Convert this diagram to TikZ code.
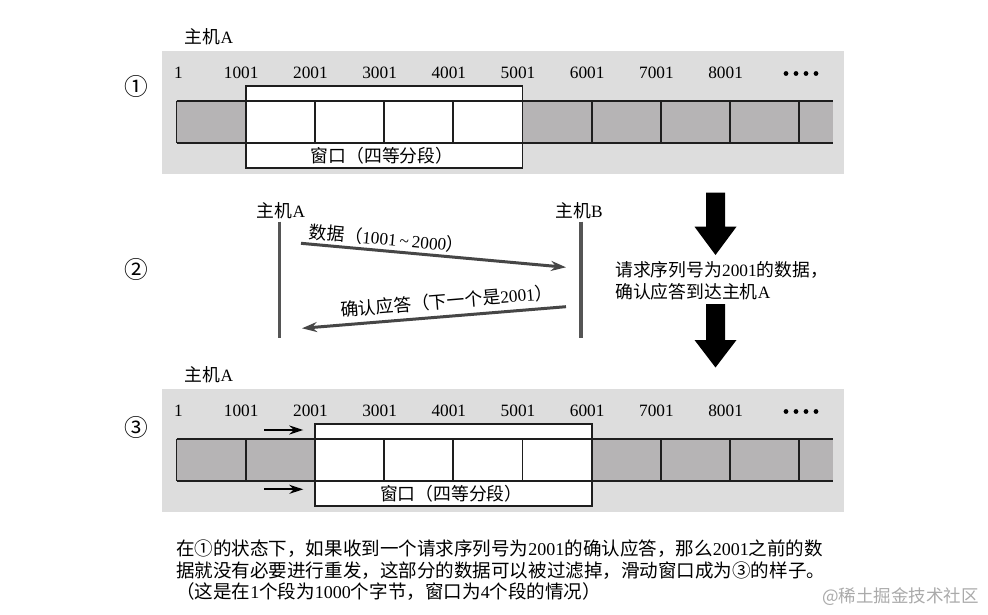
\documentclass[tikz,border=0pt]{standalone}
\usepackage{fontspec}
\setmainfont{Liberation Serif}
\newfontfamily\cjk{Noto Sans CJK SC}[Scale=1.03]
\newcommand{\zh}[1]{{\cjk #1}}
\usetikzlibrary{arrows.meta}
\definecolor{bggray}{RGB}{221,221,221}
\definecolor{cellgray}{RGB}{182,180,181}
\definecolor{inkline}{RGB}{30,30,30}
\definecolor{lifegray}{RGB}{85,85,85}
\definecolor{msggray}{RGB}{70,70,70}
\definecolor{wmgray}{RGB}{170,170,170}
\tikzset{
  every node/.style={inner sep=0pt, font=\fontsize{17.3}{19}\selectfont},
  cellline/.style={draw=inkline, line width=1.7pt},
  lifeline/.style={draw=lifegray, line width=3.2pt},
  msgarrow/.style={draw=msggray, line width=3pt, -{Stealth[length=15pt,width=10pt]}},
  shiftarrow/.style={draw=black, line width=2.2pt, -{Stealth[length=14pt,width=9pt]}},
  bigarrow/.style={fill=black},
  circnum/.style={font=\fontsize{23}{23}\selectfont},
  bodytext/.style={font=\fontsize{18}{19}\selectfont, anchor=west},
}
\newcommand{\slidepanel}[2]{%
  \fill[bggray] (162,51) rectangle (844,174);
  \fill[cellgray] (176.5,101) rectangle (833,143);
  \pgfmathsetmacro\wl{176.5+#2*69.2}
  \pgfmathsetmacro\wr{\wl+4*69.2}
  \pgfmathsetmacro\wc{(\wl+\wr)/2-2}
  \filldraw[fill=white, cellline] (\wl,85.7) rectangle (\wr,168.3);
  \draw[cellline] (176.5,101) -- (833,101) (176.5,143) -- (833,143) (176.5,101) -- (176.5,143);
  \foreach \i in {1,...,9} {\draw[cellline] ({176.5+\i*69.2},101) -- ({176.5+\i*69.2},143);}
  \node (p#1-n0) at (178.5,72.7) {1};
  \foreach \i/\t in {1/1001,2/2001,3/3001,4/4001,5/5001,6/6001,7/7001,8/8001}
    {\node (p#1-n\i) at ({176.5+\i*69.2-4.5},72.7) {\t};}
  \foreach \k in {0,...,3} {\fill (786+\k*10,73.5) circle[radius=2.4pt];}
  \node (p#1-win) at (\wc,156.2) {\zh{窗口（四等分段）}};
  \node (p#1-host) at (209,36.7) {\zh{主机}A};
}
\begin{document}
\begin{tikzpicture}[x=1pt, y=-1pt]
\useasboundingbox (0,0) rectangle (988,615);
\fill[white] (0,0) rectangle (988,615);

% panel 1
\slidepanel{1}{1}
\node[circnum] (c1) at (136.7,86.7) {\zh{①}};

% panel 2
\node[circnum] (c2) at (136.7,269.5) {\zh{②}};
\node (hA) at (281,210.7) {\zh{主机}A};
\node (hB) at (579,210.7) {\zh{主机}B};
\coordinate (lAt) at (279.3,221.7);
\coordinate (lAb) at (279.3,338.3);
\coordinate (lBt) at (581,221.7);
\coordinate (lBb) at (581,338.3);
\draw[lifeline] (lAt) -- (lAb);
\draw[lifeline] (lBt) -- (lBb);
\coordinate (s1) at (301,243.3);
\coordinate (e1) at (566,267.3);
\draw[msgarrow] (s1) -- (e1);
\coordinate (s2) at (566,306.7);
\coordinate (e2) at (302,328.3);
\draw[msgarrow] (s2) -- (e2);
\node[rotate=-5.2] (m1) at (386.7,238.5) {\zh{数据（}1001\,\textasciitilde\,2000\zh{）}};
\node[rotate=4.7] (m2) at (446.5,301) {\zh{确认应答（下一个是}2001\zh{）}};
\node[anchor=west, align=left, font=\fontsize{17.3}{22.5}\selectfont] (note) at (615,280.5)
  {\zh{请求序列号为}2001\zh{的数据，}\\\zh{确认应答到达主机}A};
\fill[bigarrow] (706,192.7) -- (725,192.7) -- (725,226.7) -- (736.5,226.7) -- (715.5,255) -- (694.5,226.7) -- (706,226.7) -- cycle;
\fill[bigarrow] (706,304) -- (725,304) -- (725,340) -- (736.5,340) -- (715.5,367.5) -- (694.5,340) -- (706,340) -- cycle;

% panel 3
\begin{scope}[shift={(0,338)}]
\slidepanel{3}{2}
\end{scope}
\node[circnum] (c3) at (136.7,427.3) {\zh{③}};
\coordinate (sa1) at (264.3,430);
\coordinate (sb1) at (303.3,430);
\coordinate (sa2) at (264.3,489.3);
\coordinate (sb2) at (303.3,489.3);
\draw[shiftarrow] (sa1) -- (sb1);
\draw[shiftarrow] (sa2) -- (sb2);

% caption
\node[bodytext] (t1) at (176,549) {\zh{在①的状态下，如果收到一个请求序列号为}2001\zh{的确认应答，那么}2001\zh{之前的数}};
\node[bodytext] (t2) at (176,570.5) {\zh{据就没有必要进行重发，这部分的数据可以被过滤掉，滑动窗口成为③的样子。}};
\node[bodytext] (t3) at (176,592) {\zh{（这是在}1\zh{个段为}1000\zh{个字节，窗口为}4\zh{个段的情况）}};
\node[anchor=west, text=wmgray, font=\fontsize{17}{19}\selectfont] (wm) at (822,597) {\zh{@稀土掘金技术社区}};
\end{tikzpicture}
\end{document}
